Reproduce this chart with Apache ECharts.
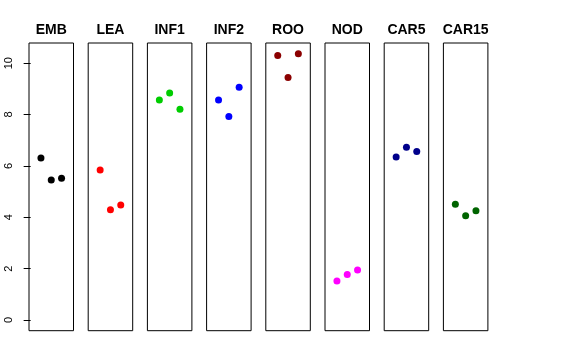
<!DOCTYPE html>
<html><head><meta charset="utf-8">
<script src="https://cdn.jsdelivr.net/npm/echarts@6/dist/echarts.min.js"></script>
<style>html,body{margin:0;padding:0;background:#fff}#c{width:576px;height:360px}</style>
</head><body><div id="c"></div>
<script>
const categories = ['EMB','LEA','INF1','INF2','ROO','NOD','CAR5','CAR15'];
const colors = ['#000000','#FF0000','#00CD00','#0000FF','#8B0000','#FF00FF','#00008B','#006400'];
const xPositions = [1, 2, 3];
const EMB = [6.31, 5.45, 5.52];
const LEA = [5.84, 4.29, 4.48];
const INF1 = [8.57, 8.84, 8.21];
const INF2 = [8.57, 7.92, 9.06];
const ROO = [10.30, 9.44, 10.37];
const NOD = [1.52, 1.77, 1.95];
const CAR5 = [6.35, 6.73, 6.56];
const CAR15 = [4.51, 4.06, 4.25];
const seriesValues = [EMB, LEA, INF1, INF2, ROO, NOD, CAR5, CAR15];
const yTicks = [0, 2, 4, 6, 8, 10];

(function () {
const allVals = seriesValues.flat();
const yMaxData = Math.max(...allVals);
const yMin = 0 - 0.04 * yMaxData;
const yMax = yMaxData + 0.04 * yMaxData;
const xMin = 0 - 0.04 * 4, xMax = 4 + 0.04 * 4;

const FONT = '"Liberation Sans", Arial, Helvetica, sans-serif';
const left0 = 29, step = 59.2, pw = 44.5, gTop = 43, ph = 287.7;

const grids = [], xAxes = [], yAxes = [], series = [], titles = [];
categories.forEach((cat, i) => {
  const l = left0 + step * i;
  grids.push({left: l, top: gTop, width: pw, height: ph, show: true, borderColor: '#000', borderWidth: 1, backgroundColor: 'transparent'});
  xAxes.push({type: 'value', gridIndex: i, min: xMin, max: xMax, show: false});
  yAxes.push({
    type: 'value', gridIndex: i, min: yMin, max: yMax, show: i === 0,
    splitLine: {show: false},
    axisLine: {show: false},
    axisTick: {show: i === 0, length: 7, inside: false, lineStyle: {color: '#000', width: 1}, customValues: yTicks},
    axisLabel: {show: i === 0, rotate: 90, margin: 15, color: '#000', fontSize: 11, fontFamily: FONT, customValues: yTicks}
  });
  series.push({
    type: 'scatter', xAxisIndex: i, yAxisIndex: i, symbol: 'circle', symbolSize: 7,
    itemStyle: {color: colors[i], opacity: 1}, silent: true,
    data: seriesValues[i].map((v, j) => [xPositions[j], v])
  });
  titles.push({text: cat, left: l + pw / 2, top: 23, textAlign: 'center', padding: 0,
    textStyle: {fontSize: 14, fontWeight: 'bold', color: '#000', fontFamily: FONT}});
});

const chart = echarts.init(document.getElementById('c'), null, {renderer: 'canvas'});
chart.setOption({
  animation: false,
  backgroundColor: '#fff',
  title: titles,
  grid: grids, xAxis: xAxes, yAxis: yAxes, series: series
});
})();
</script></body></html>
